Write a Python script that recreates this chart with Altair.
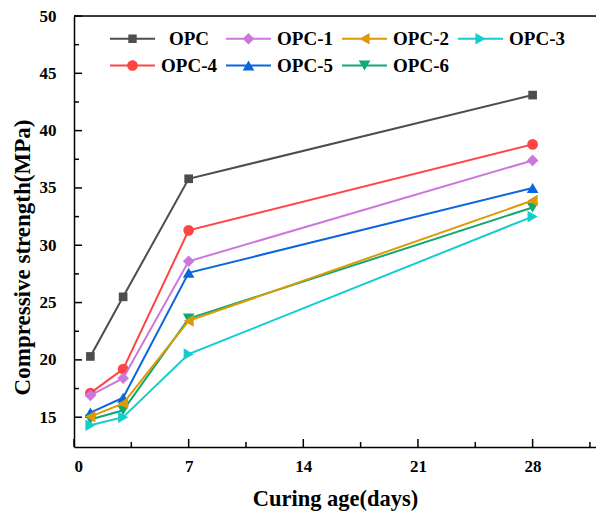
import altair as alt
import pandas as pd

# ---------------- data ----------------
days = [1, 3, 7, 28]
series_names = ["OPC", "OPC-1", "OPC-2", "OPC-3", "OPC-4", "OPC-5", "OPC-6"]
opc = [20.3, 25.5, 35.8, 43.1]
opc1 = [16.9, 18.4, 28.6, 37.4]
opc2 = [15.05, 16.2, 23.4, 33.9]
opc3 = [14.3, 15.0, 20.5, 32.5]
opc4 = [17.1, 19.2, 31.3, 38.8]
opc5 = [15.4, 16.7, 27.6, 35.0]
opc6 = [14.8, 15.6, 23.6, 33.3]
series_values = [opc, opc1, opc2, opc3, opc4, opc5, opc6]

x_major = [0, 7, 14, 21, 28]
x_minor = [3.5, 10.5, 17.5, 24.5, 31.5]
y_major = [15, 20, 25, 30, 35, 40, 45, 50]
y_minor = [17.5, 22.5, 27.5, 32.5, 37.5, 42.5, 47.5]

# ---------------- styles ----------------
colors = ["#4d4d4d", "#cc77dd", "#dd9a05", "#14cccc", "#ff4444", "#0a66dd", "#12a874"]
shapes = ["square", "diamond", "triangle-left", "triangle-right", "circle", "triangle-up", "triangle-down"]
sizes = [75, 135, 135, 135, 115, 135, 135]

LINE = "M-4.09,-0.18H4.09V0.18H-4.09Z "
legend_paths = [
    LINE + "M-0.76,-0.76H0.76V0.76H-0.76Z",
    LINE + "M0,-1.06L1.06,0L0,1.06L-1.06,0Z",
    LINE + "M-0.92,0L0.92,-1.06L0.92,1.06Z",
    LINE + "M0.92,0L-0.92,1.06L-0.92,-1.06Z",
    LINE + "M-0.97,0A0.97,0.97 0 1,1 0.97,0A0.97,0.97 0 1,1 -0.97,0Z",
    LINE + "M0,-0.92L1.06,0.92L-1.06,0.92Z",
    LINE + "M0,0.92L-1.06,-0.92L1.06,-0.92Z",
]

FONT = "'Liberation Serif', 'Times New Roman', serif"
W, H = 522, 431

rows = []
for name, vals in zip(series_names, series_values):
    for d, v in zip(days, vals):
        rows.append({"series": name, "day": d, "value": v})
df = pd.DataFrame(rows)

xs = alt.Scale(domain=[0, 31.87], nice=False, zero=False)
ys = alt.Scale(domain=[12.4, 50], nice=False, zero=False)

x_axis = alt.Axis(
    title="Curing age(days)", values=x_major, ticks=False, tickSize=0,
    labelPadding=11, titlePadding=13, grid=False,
    domainColor="black", domainWidth=1.5,
    labelFont=FONT, labelFontSize=17, labelFontWeight="bold", labelColor="black",
    titleFont=FONT, titleFontSize=22.5, titleFontWeight="bold", titleColor="black")
y_axis = alt.Axis(
    title="Compressive strength(MPa)", values=y_major, ticks=False, tickSize=0,
    labelPadding=18, titlePadding=5, titleY=241, grid=False,
    domainColor="black", domainWidth=1.5,
    labelFont=FONT, labelFontSize=17, labelFontWeight="bold", labelColor="black",
    titleFont=FONT, titleFontSize=23, titleFontWeight="bold", titleColor="black")


def X(field):
    return alt.X(field, scale=xs, axis=x_axis)


def Y(field):
    return alt.Y(field, scale=ys, axis=y_axis)


base = alt.Chart(df)
layers = []

# inward ticks
def xticks(vals, length):
    return alt.Chart(pd.DataFrame({"day": vals})).mark_rule(color="black", strokeWidth=1.5).encode(
        x=X("day:Q"), y=alt.value(H), y2=alt.value(H - length))

def yticks(vals, length):
    return alt.Chart(pd.DataFrame({"value": vals})).mark_rule(color="black", strokeWidth=1.5).encode(
        y=Y("value:Q"), x=alt.value(0), x2=alt.value(length))

layers += [xticks(x_major, 8), xticks(x_minor, 5), yticks(y_major, 8), yticks(y_minor, 5)]

# top frame line
layers.append(alt.Chart(pd.DataFrame({"t": [0]})).mark_rule(color="black", strokeWidth=1.5).encode(
    x=alt.value(0), x2=alt.value(W), y=alt.value(0)))

# series, drawn in reverse order so earlier series sit on top
for i in reversed(range(len(series_names))):
    name = series_names[i]
    sub = base.transform_filter(alt.datum.series == name)
    layers.append(sub.mark_line(color=colors[i], strokeWidth=2).encode(
        x=X("day:Q"), y=Y("value:Q")))
    layers.append(sub.mark_point(shape=shapes[i], filled=True, size=sizes[i], color=colors[i], opacity=1).encode(
        x=X("day:Q"), y=Y("value:Q")))

# legend carrier (no visible marks)
leg = dict(
    title=None, orient="none", legendX=32, legendY=13, columns=4, direction="horizontal",
    columnPadding=5, rowPadding=7, padding=0,
    labelFont=FONT, labelFontSize=19, labelFontWeight="bold", labelColor="black",
    labelAlign="center", labelOffset=47, labelLimit=300,
    symbolOffset=17, symbolSize=121, symbolStrokeWidth=0)
legend_layer = base.transform_filter("datum.day < 0").mark_point(filled=True, size=121, opacity=1).encode(
    x=X("day:Q"),
    y=Y("value:Q"),
    color=alt.Color("series:N", scale=alt.Scale(domain=series_names, range=colors), legend=alt.Legend(**leg)),
    shape=alt.Shape("series:N", scale=alt.Scale(domain=series_names, range=legend_paths), legend=alt.Legend(**leg)),
)
layers.append(legend_layer)

chart = alt.layer(*layers).properties(
    width=W, height=H,
    autosize=alt.AutoSizeParams(type="none"),
    padding={"left": 74, "top": 16, "right": 0, "bottom": 64},
).configure_view(stroke=None).configure(background="white")

chart.save("out.html", embed_options={"renderer": "svg", "actions": False})
